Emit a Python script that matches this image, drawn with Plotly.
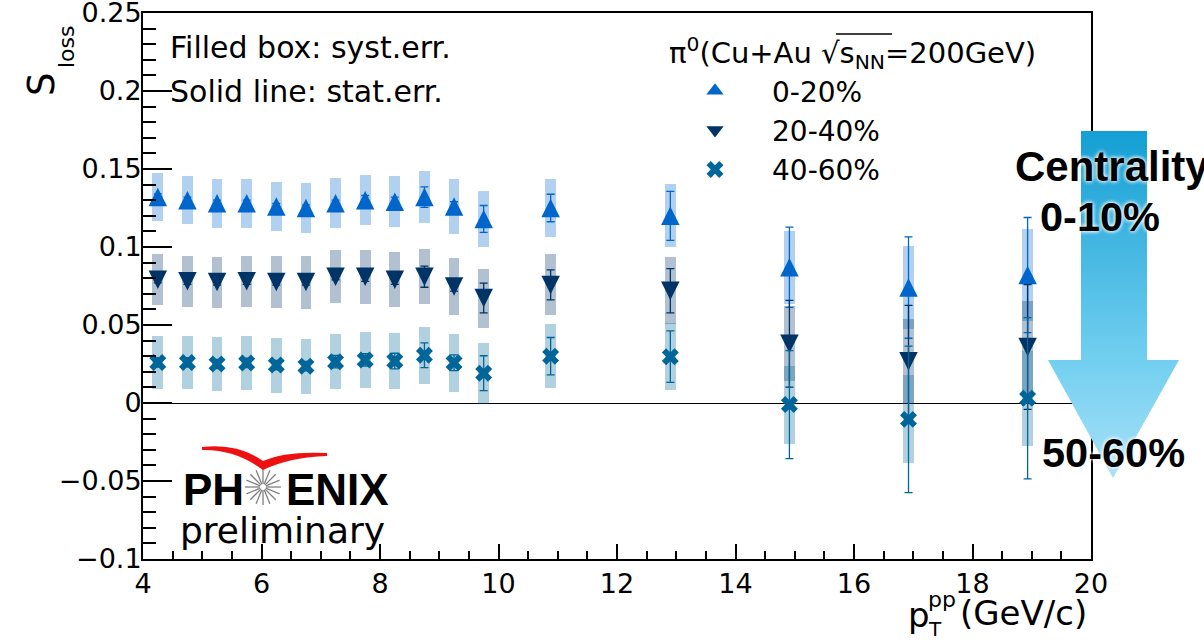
import base64
import math
import plotly.graph_objects as go

# ---------------- data ----------------
pt = [4.25, 4.75, 5.25, 5.75, 6.25, 6.75, 7.25, 7.75, 8.25, 8.75, 9.25, 9.75,
      10.88, 12.9, 14.91, 16.92, 18.93]

s_0_20 = [0.132, 0.130, 0.128, 0.128, 0.126, 0.125, 0.128, 0.130, 0.129, 0.132,
          0.126, 0.118, 0.125, 0.120, 0.087, 0.074, 0.082]
stat_0_20 = [0.002, 0.002, 0.002, 0.002, 0.002, 0.002, 0.002, 0.003, 0.003, 0.0066,
             0.003, 0.0086, 0.0088, 0.0157, 0.0257, 0.0325, 0.0369]
syst_0_20 = [0.0154, 0.0155, 0.0157, 0.0156, 0.0159, 0.0158, 0.0160, 0.0162, 0.0162,
             0.0168, 0.0175, 0.0182, 0.0187, 0.0203, 0.0235, 0.0267, 0.0294]

s_20_40 = [0.079, 0.078, 0.0775, 0.078, 0.0775, 0.0775, 0.081, 0.081, 0.079, 0.081,
           0.0747, 0.0673, 0.0757, 0.072, 0.038, 0.0267, 0.0359]
stat_20_40 = [0.002, 0.002, 0.002, 0.002, 0.002, 0.002, 0.002, 0.003, 0.003, 0.0068,
              0.003, 0.0095, 0.0096, 0.0142, 0.0278, 0.0359, 0.040]
syst_20_40 = [0.0163, 0.0162, 0.0163, 0.0165, 0.0167, 0.0170, 0.0171, 0.0173, 0.0175,
              0.0178, 0.0183, 0.0189, 0.0196, 0.0214, 0.0240, 0.0269, 0.0295]

s_40_60 = [0.026, 0.026, 0.025, 0.0257, 0.0243, 0.0236, 0.0265, 0.0276, 0.0269, 0.0306,
           0.0258, 0.0191, 0.030, 0.0297, -0.001, -0.0105, 0.003]
stat_40_60 = [0.003, 0.003, 0.003, 0.003, 0.003, 0.003, 0.004, 0.004, 0.005, 0.0079,
              0.005, 0.0112, 0.012, 0.0165, 0.0346, 0.047, 0.0517]
syst_40_60 = [0.0168, 0.0169, 0.0173, 0.0175, 0.0176, 0.0176, 0.0175, 0.0178, 0.0179,
              0.0181, 0.0187, 0.0196, 0.0205, 0.0214, 0.0250, 0.0282, 0.0304]

labels = ["0-20%", "20-40%", "40-60%"]
x_ticks = [4, 6, 8, 10, 12, 14, 16, 18, 20]
y_ticks = [-0.1, -0.05, 0, 0.05, 0.1, 0.15, 0.2, 0.25]
y_tick_text = ["\u22120.1", "\u22120.05", "0", "0.05", "0.1", "0.15", "0.2", "0.25"]

# ---------------- geometry helpers ----------------
W, H = 1204, 641
PL, PR, PT, PB = 143, 1091, 13, 559          # plot-area edges in pixels


def fx(p):
    return (p - PL) / (PR - PL)


def fy(p):
    return (PB - p) / (PB - PT)


TXT = "DejaVu Sans"
BOLD = "Liberation Sans"

C1, C2, C3 = "#0066cc", "#003366", "#006699"
BOX_W = 0.18

fig = go.Figure()

series = [
    (labels[0], s_0_20, stat_0_20, syst_0_20, C1),
    (labels[1], s_20_40, stat_20_40, syst_20_40, C2),
    (labels[2], s_40_60, stat_40_60, syst_40_60, C3),
]

# systematic-error boxes
for name, val, st, sy, col in series:
    fig.add_trace(go.Bar(
        x=pt, y=[2 * e for e in sy], base=[v - e for v, e in zip(val, sy)],
        width=BOX_W, marker=dict(color=col, opacity=0.3, line=dict(width=0)),
        showlegend=False, hoverinfo="skip"))

# markers with statistical error bars (centred isosceles triangles / thick cross)
marker_styles = [
    dict(symbol="arrow-down", angle=180, standoff=9.25, size=18.5),
    dict(symbol="arrow-down", angle=0, standoff=9.25, size=18.5),
    dict(symbol="x", size=15),
]
for (name, val, st, sy, col), ms in zip(series, marker_styles):
    fig.add_trace(go.Scatter(
        x=pt, y=val, mode="markers", name=name, showlegend=False,
        marker=dict(color=col, line=dict(width=0), **ms),
        error_y=dict(type="data", array=st, color=col, thickness=1.3, width=4),
        hoverinfo="skip"))

# legend keys
legend_symbols = ["triangle-up", "triangle-down", "x"]
for (name, val, st, sy, col), sym in zip(series, legend_symbols):
    fig.add_trace(go.Scatter(
        x=[None], y=[None], mode="markers", name=name, legendgroup=name,
        marker=dict(color=col, symbol=sym, size=15, line=dict(width=0)),
        hoverinfo="skip"))

axis_font = dict(family=TXT, size=27, color="black")

fig.update_layout(
    width=W, height=H,
    margin=dict(l=PL, r=W - PR, t=PT, b=H - PB, pad=0, autoexpand=False),
    paper_bgcolor="white", plot_bgcolor="white",
    barmode="overlay", bargap=0,
    hovermode=False,
    xaxis=dict(range=[4, 20], tickvals=x_ticks, ticks="inside", ticklen=15,
               tickwidth=1.5, tickcolor="black", showline=True, linewidth=2,
               linecolor="black", mirror=True, showgrid=False, zeroline=False,
               tickfont=axis_font, ticklabelstandoff=0, automargin=False,
               minor=dict(dtick=0.5, ticks="inside", ticklen=8, tickwidth=1.5,
                          tickcolor="black", showgrid=False)),
    yaxis=dict(range=[-0.1, 0.2500001], tickvals=y_ticks, ticktext=y_tick_text,
               ticks="inside", ticklen=29, ticklabeloverflow="allow",
               tickwidth=1.5, tickcolor="black", showline=True, linewidth=2,
               linecolor="black", mirror=True, showgrid=False, zeroline=True,
               zerolinecolor="black", zerolinewidth=1.3, automargin=False,
               tickfont=axis_font, ticklabelstandoff=-6,
               minor=dict(dtick=0.01, tick0=0, ticks="inside", ticklen=13,
                          tickwidth=1.5, tickcolor="black", showgrid=False)),
    legend=dict(x=fx(658), y=fy(66), xanchor="left", yanchor="top",
                bgcolor="rgba(0,0,0,0)", borderwidth=0, itemwidth=104,
                font=dict(family=TXT, size=28, color="black"),
                tracegroupgap=4, traceorder="normal"),
)

annotations = []


def note(text, x, y, size, family=TXT, xanchor="left", yanchor="middle",
         angle=0, shadow=None, color="black"):
    font = dict(family=family, size=size, color=color)
    if shadow:
        font["shadow"] = shadow
    annotations.append(dict(
        text=text, x=fx(x), y=fy(y), xref="paper", yref="paper",
        xanchor=xanchor, yanchor=yanchor, showarrow=False, textangle=angle,
        font=font))


# top-left notes
note("Filled box: syst.err.", 168, 47, 30)
note("Solid line: stat.err.", 168, 91, 30)

# legend header
note("π<sup>0</sup>(Cu+Au √s<sub>NN</sub>=200GeV)", 667, 53, 29)

# axis titles
note("S", 42, 84, 37, xanchor="center", angle=-90)
note("loss", 66, 47, 22, xanchor="center", angle=-90)
note("p", 906, 615, 34)
note("pp", 926, 599, 22)
note("T", 926, 629, 20)
note("(GeV/c)", 1089, 613, 34, xanchor="right")

# PHENIX logo text
note("<b>PH</b>", 181, 489, 44, family=BOLD)
note("<b>ENIX</b>", 284, 489, 44, family=BOLD)
note("preliminary", 178, 530, 36)

# centrality arrow labels
glow = "0px 0px 4px #ffffff, 0px 0px 4px #ffffff"
note("<b>Centrality</b>", 1013, 166, 42, family=BOLD, shadow=glow)
note("<b>0-10%</b>", 1038, 216, 41.5, family=BOLD, shadow=glow)
note("<b>50-60%</b>", 1040, 452, 41.5, family=BOLD, shadow=glow)

fig.update_layout(annotations=annotations)

# ---------------- decorative shapes ----------------
shapes = []

# starburst in the PHENIX logo
cx, cy = 263, 487
for k in range(16):
    a = k * math.pi / 8
    x0, y0 = cx + 3 * math.cos(a), cy + 3 * math.sin(a)
    x1, y1 = cx + 18 * math.cos(a), cy + 18 * math.sin(a)
    shapes.append(dict(type="line", xref="paper", yref="paper",
                       x0=fx(x0), y0=fy(y0), x1=fx(x1), y1=fy(y1),
                       line=dict(color="#808080", width=1.3)))


def P(x, y):
    return f"{fx(x):.5f},{fy(y):.5f}"


swoosh = ("M" + P(202, 447) + " Q" + P(238, 443) + " " + P(263, 461) +
          " Q" + P(285, 451) + " " + P(327, 453) +
          " L" + P(327, 456) +
          " Q" + P(290, 457) + " " + P(263, 470) +
          " Q" + P(235, 449) + " " + P(202, 450) + " Z")
shapes.append(dict(type="path", xref="paper", yref="paper", path=swoosh,
                   fillcolor="#ee1111", line=dict(width=0)))

# overbar of the square root in the legend header
shapes.append(dict(type="line", xref="paper", yref="paper",
                   x0=fx(836), x1=fx(892), y0=fy(34), y1=fy(34),
                   line=dict(color="black", width=1.3)))

fig.update_layout(shapes=shapes)

# ---------------- centrality arrow (gradient) ----------------
ax0, ax1, ay0, ay1 = 1048, 1179, 131, 478
aw, ah = ax1 - ax0, ay1 - ay0
shaft_l, shaft_r, head_y, tip_x = 1081 - ax0, 1147 - ax0, 360 - ay0, 1113 - ax0
svg = (
    f'<svg xmlns="http://www.w3.org/2000/svg" width="{aw}" height="{ah}" '
    f'viewBox="0 0 {aw} {ah}" preserveAspectRatio="none">'
    '<defs><linearGradient id="g" x1="0" y1="0" x2="0" y2="1">'
    '<stop offset="0" stop-color="#149fd3"/>'
    '<stop offset="0.66" stop-color="#72cff0"/>'
    '<stop offset="1" stop-color="#a8e1f7"/>'
    '</linearGradient></defs>'
    f'<path d="M{shaft_l},0 H{shaft_r} V{head_y} H{aw} L{tip_x},{ah} '
    f'L0,{head_y} H{shaft_l} Z" fill="url(#g)"/></svg>'
)
src = "data:image/svg+xml;base64," + base64.b64encode(svg.encode()).decode()
fig.add_layout_image(dict(source=src, xref="paper", yref="paper",
                          x=fx(ax0), y=fy(ay0), sizex=aw / (PR - PL),
                          sizey=ah / (PB - PT), xanchor="left", yanchor="top",
                          sizing="stretch", layer="above"))

fig.write_html("out.html", config=dict(displayModeBar=False))
